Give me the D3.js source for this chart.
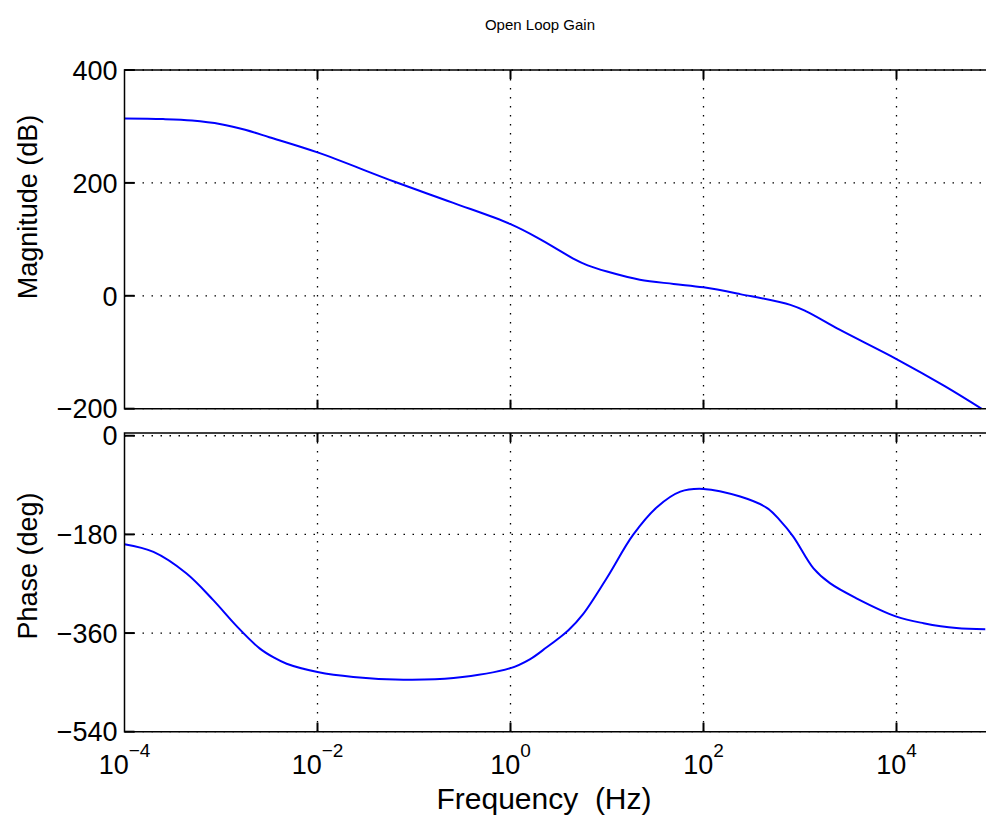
<!DOCTYPE html>
<html>
<head>
<meta charset="utf-8">
<script src="https://cdn.jsdelivr.net/npm/d3@7"></script>
<style>
  body { margin: 0; background: #fff; }
  svg { display: block; font-family: Arial, "Liberation Sans", sans-serif; }
</style>
</head>
<body>
<div id="chart"></div>
<script>
// log10 of frequency (Hz) and values
const magLogFreq = [-4, -3.6, -3.3, -3.0, -2.75, -2.5, -2.0, -1.2, -0.6, 0, 0.3, 0.5, 0.65, 0.8, 1.0, 1.34, 1.69, 2.0, 2.38, 2.9, 3.07, 3.41, 4.0, 4.5, 4.9];
const magnitude = [314, 313, 310.5, 304, 294, 281, 254, 202, 165, 127, 101, 81, 66, 54, 43, 28.5, 21, 15, 3, -16, -28, -60, -112, -160, -202];

const phaseLogFreq = [-4, -3.7, -3.36, -3.08, -2.84, -2.6, -2.45, -2.32, -2.0, -1.63, -1.11, -0.59, 0, 0.2, 0.375, 0.51, 0.6, 0.75, 1.0, 1.27, 1.52, 1.76, 2.0, 2.38, 2.66, 2.79, 2.93, 3.14, 3.31, 3.59, 4.0, 4.28, 4.62, 4.92];
const phase = [-198, -212, -251, -300, -347, -388, -405, -416, -431, -440, -445, -442, -424, -408, -386, -368, -355, -326, -259, -181, -130, -102, -97, -111, -132, -154, -184, -242, -269, -297, -330, -342, -351, -353];

const freqTicks = [1e-4, 1e-2, 1e0, 1e2, 1e4];
const freqTickExp = ['-4', '-2', '0', '2', '4'];
const magTicks = [400, 200, 0, -200];
const phaseTicks = [0, -180, -360, -540];

const width = 986;
const height = 823;
const left = 124.5;
const right = 993;

const svg = d3.select('#chart').append('svg')
  .attr('width', width)
  .attr('height', height);

svg.append('rect').attr('width', width).attr('height', height).attr('fill', '#fff');

const x = d3.scaleLog().domain([1e-4, 1e5]).range([left, right]);

function drawPanel(opts) {
  const y = d3.scaleLinear().domain(opts.domain).range(opts.range);
  const top = opts.range[1];
  const bottom = opts.range[0];
  const g = svg.append('g');

  g.append('clipPath').attr('id', opts.id)
    .append('rect')
    .attr('x', left).attr('y', top)
    .attr('width', right - left).attr('height', bottom - top);

  // grid
  g.selectAll('.vgrid').data(freqTicks.slice(1)).enter().append('line')
    .attr('x1', d => x(d)).attr('x2', d => x(d))
    .attr('y1', top).attr('y2', bottom)
    .attr('stroke', '#000').attr('stroke-width', 1.3)
    .attr('stroke-dasharray', '1.5,7.5');
  g.selectAll('.hgrid').data(opts.ticks).enter().append('line')
    .attr('x1', left).attr('x2', right)
    .attr('y1', d => y(d)).attr('y2', d => y(d))
    .attr('stroke', '#000').attr('stroke-width', 1.3)
    .attr('stroke-dasharray', '1.5,7.5');

  // curve
  const line = d3.line()
    .x(d => x(Math.pow(10, d[0])))
    .y(d => y(d[1]))
    .curve(d3.curveCatmullRom.alpha(0.5));
  g.append('path')
    .datum(opts.freq.map((f, i) => [f, opts.values[i]]))
    .attr('clip-path', `url(#${opts.id})`)
    .attr('fill', 'none')
    .attr('stroke', '#0000ff')
    .attr('stroke-width', 2)
    .attr('d', line);

  // ticks inside the frame
  g.selectAll('.ytick').data(opts.ticks).enter().append('line')
    .attr('x1', left).attr('x2', left + 10)
    .attr('y1', d => y(d)).attr('y2', d => y(d))
    .attr('stroke', '#000').attr('stroke-width', 2);
  g.selectAll('.xtickb').data(freqTicks.slice(1)).enter().append('line')
    .attr('x1', d => x(d)).attr('x2', d => x(d))
    .attr('y1', bottom).attr('y2', bottom - 9)
    .attr('stroke', '#000').attr('stroke-width', 2);
  g.selectAll('.xtickt').data(freqTicks.slice(1)).enter().append('line')
    .attr('x1', d => x(d)).attr('x2', d => x(d))
    .attr('y1', top).attr('y2', top + 9)
    .attr('stroke', '#000').attr('stroke-width', 2);

  // frame
  g.append('path')
    .attr('d', `M${right},${top}H${left}V${bottom}H${right}`)
    .attr('fill', 'none').attr('stroke', '#000').attr('stroke-width', 1.5);

  // y tick labels
  g.selectAll('.ylab').data(opts.ticks).enter().append('text')
    .attr('x', left - 7)
    .attr('y', d => y(d))
    .attr('dy', '0.36em')
    .attr('text-anchor', 'end')
    .attr('font-size', 27)
    .text(d => d < 0 ? '\u2212' + Math.abs(d) : d);

  g.append('text')
    .attr('transform', `translate(${opts.labelX},${opts.labelY}) rotate(-90)`)
    .attr('text-anchor', 'middle')
    .attr('font-size', 27)
    .text(opts.label);

  return y;
}

drawPanel({
  id: 'clipMag', domain: [-200, 400], range: [408.7, 70],
  ticks: magTicks, freq: magLogFreq, values: magnitude,
  label: 'Magnitude (dB)', labelX: 37, labelY: 207,
});

drawPanel({
  id: 'clipPhase', domain: [-540, 5], range: [731.7, 433],
  ticks: phaseTicks, freq: phaseLogFreq, values: phase,
  label: 'Phase (deg)', labelX: 37, labelY: 566,
});

// x tick labels with superscript exponents
const xl = svg.selectAll('.xlab').data(freqTicks).enter().append('text')
  .attr('x', d => x(d))
  .attr('y', 774)
  .attr('text-anchor', 'middle')
  .attr('font-size', 27);
xl.append('tspan').text('10');
xl.append('tspan')
  .attr('dy', -17)
  .attr('font-size', 19)
  .text((d, i) => freqTickExp[i].replace('-', '\u2212'));

svg.append('text')
  .attr('x', 544).attr('y', 809)
  .attr('text-anchor', 'middle')
  .attr('font-size', 30)
  .attr('xml:space', 'preserve')
  .style('white-space', 'pre')
  .text('Frequency  (Hz)');

svg.append('text')
  .attr('x', 540).attr('y', 30)
  .attr('text-anchor', 'middle')
  .attr('font-size', 15)
  .text('Open Loop Gain');
</script>
</body>
</html>
